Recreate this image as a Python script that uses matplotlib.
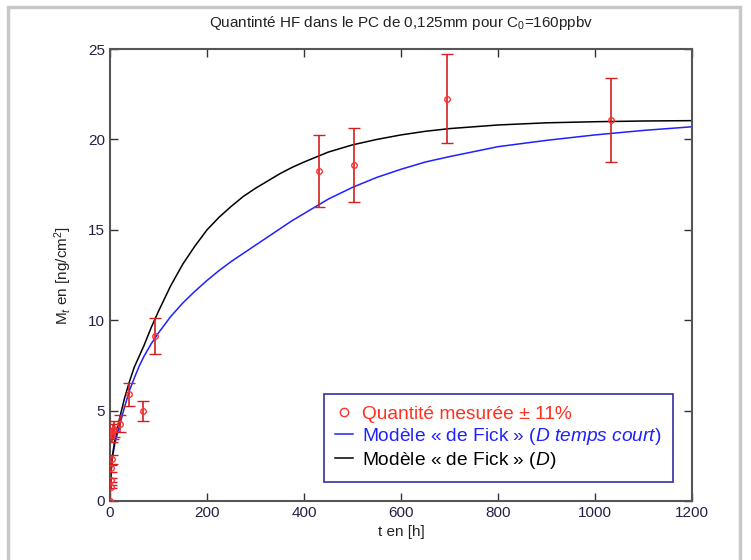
import numpy as np
import matplotlib
matplotlib.use("Agg")
import matplotlib.pyplot as plt
from matplotlib.patches import Rectangle
from matplotlib.lines import Line2D

plt.rcParams['font.family'] = ['Liberation Sans', 'DejaVu Sans']
plt.rcParams['mathtext.fontset'] = 'custom'
plt.rcParams['mathtext.rm'] = 'Liberation Sans'
plt.rcParams['mathtext.it'] = 'Liberation Sans:italic'

# measured points (t in h, Mt in ng/cm2), error = 11 %
t_mes = [0, 1, 1.5, 2.5, 3.5, 4.5, 6, 8, 21, 40, 69, 92, 431, 502, 694, 1032]
m_mes = [0, 0.78, 1.15, 1.8, 2.3, 3.65, 3.85, 4.0, 4.27, 5.9, 4.96, 9.13, 18.25, 18.6, 22.26, 21.1]
err_pct = 0.11

# model curves
t_mod = [0, 2, 5, 10, 20, 30, 40, 50, 60, 70, 85, 100, 125, 150, 175, 200, 225, 250,
         275, 300, 325, 350, 375, 400, 450, 500, 550, 600, 650, 700, 800, 900, 1000,
         1100, 1200]
m_fick_court = [0, 1.6, 2.4, 3.2, 4.2, 5.2, 6.1, 6.8, 7.45, 8.0, 8.7, 9.3, 10.2, 10.95,
                11.6, 12.2, 12.75, 13.25, 13.7, 14.15, 14.6, 15.05, 15.5, 15.9, 16.7,
                17.35, 17.9, 18.35, 18.75, 19.05, 19.6, 19.95, 20.25, 20.5, 20.7]
m_fick = [0, 1.5, 2.5, 3.4, 4.6, 5.7, 6.6, 7.4, 8.0, 8.6, 9.6, 10.5, 11.9, 13.1, 14.1,
          15.0, 15.7, 16.3, 16.85, 17.3, 17.7, 18.1, 18.45, 18.75, 19.3, 19.7, 20.0,
          20.25, 20.45, 20.6, 20.8, 20.92, 20.98, 21.02, 21.04]

fig = plt.figure(figsize=(7.51, 5.60), dpi=100)
fig.patches.append(Rectangle((0.011, -0.01), 0.975, 0.997, transform=fig.transFigure,
                             fill=False, edgecolor='#c8c8c8', linewidth=2.5))

ax = fig.add_axes([0.1465, 0.1054, 0.775, 0.807])

m_arr = np.array(m_mes)
ax.errorbar(t_mes, m_mes, yerr=err_pct * m_arr, fmt='o', mfc='none', mec='#ff3030',
            ms=4, mew=1, ecolor='#d02020', elinewidth=1.2, capsize=4, capthick=1.2,
            zorder=3)
l1, = ax.plot(t_mod, m_fick_court, color='#2020ff', lw=1.1,
              label='Modèle « de Fick » ($\\it{D\\ temps\\ court}$)', zorder=2)
l2, = ax.plot(t_mod, m_fick, color='black', lw=1.1,
              label='Modèle « de Fick » ($\\it{D}$)', zorder=2)
h0 = Line2D([], [], ls='none', marker='o', mfc='none', mec='#ff3030', ms=6, mew=1,
            label='Quantité mesurée ± 11%')

ax.set_xlim(0, 1200)
ax.set_ylim(0, 25)
ax.set_xticks(range(0, 1201, 200))
ax.set_yticks(range(0, 26, 5))
ax.tick_params(direction='in', top=True, right=True, length=6, width=1,
               labelsize=11, colors='#333333', labelcolor='#222244')
for s in ax.spines.values():
    s.set_color('#555555')
    s.set_linewidth(1.5)

ax.set_title('Quantinté HF dans le PC de 0,125mm pour C$_0$=160ppbv', fontsize=11,
             color='#222222', pad=16)
ax.set_xlabel('t en [h]', fontsize=11, color='#222222', labelpad=4)
ax.set_ylabel('M$_t$ en [ng/cm$^2$]', fontsize=11, color='#222222', labelpad=10)

leg = ax.legend(handles=[h0, l1, l2], loc='lower right', bbox_to_anchor=(0.984, 0.02),
                frameon=True, fancybox=False, edgecolor='#3030a0', framealpha=1,
                handlelength=0.9, handletextpad=0.5, borderpad=0.6, labelspacing=0.15,
                prop={'family': 'Liberation Sans', 'size': 13.8})
leg.get_frame().set_linewidth(1.2)
for txt, c in zip(leg.get_texts(), ['#ff3020', '#2020ff', 'black']):
    txt.set_color(c)

fig.savefig('out.png', dpi=100)
